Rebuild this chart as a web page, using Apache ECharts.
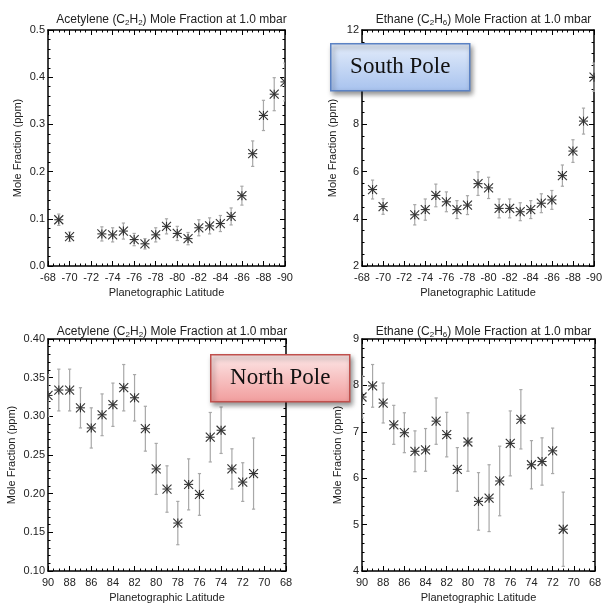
<!DOCTYPE html>
<html>
<head>
<meta charset="utf-8">
<script src="https://cdn.jsdelivr.net/npm/echarts@6/dist/echarts.min.js"></script>
<style>
  html, body { margin: 0; padding: 0; background: #fff; }
  #chart { width: 605px; height: 604px; }
</style>
</head>
<body>
<div id="chart"></div>
<script>
// latitudes
const southLat = [-69, -70, -73, -74, -75, -76, -77, -78, -79, -80, -81, -82, -83, -84, -85, -86, -87, -88, -89, -90];
const northLat = [90, 89, 88, 87, 86, 85, 84, 83, 82, 81, 80, 79, 78, 77, 76, 75, 74, 73, 72, 71];

// south pole, acetylene (ppm) and 1-sigma errors
const southC2H2 = [0.098, 0.062, 0.068, 0.066, 0.074, 0.056, 0.047, 0.066, 0.084, 0.069, 0.058, 0.081, 0.085, 0.090, 0.105, 0.149, 0.238, 0.319, 0.364, 0.390];
const southC2H2Err = [0.012, 0.010, 0.015, 0.015, 0.017, 0.013, 0.011, 0.015, 0.016, 0.015, 0.013, 0.017, 0.017, 0.017, 0.018, 0.020, 0.027, 0.032, 0.035, 0.040];

// south pole, ethane
const southC2H6 = [5.24, 4.52, 4.17, 4.39, 4.99, 4.72, 4.39, 4.58, 5.49, 5.31, 4.44, 4.44, 4.30, 4.39, 4.66, 4.80, 5.83, 6.87, 8.14, 10.0];
const southC2H6Err = [0.40, 0.33, 0.43, 0.45, 0.48, 0.42, 0.38, 0.40, 0.50, 0.45, 0.40, 0.40, 0.38, 0.38, 0.40, 0.40, 0.45, 0.48, 0.55, 0.60];

// north pole, acetylene
const northC2H2 = [0.327, 0.334, 0.334, 0.311, 0.285, 0.302, 0.315, 0.337, 0.324, 0.284, 0.232, 0.206, 0.162, 0.212, 0.199, 0.273, 0.282, 0.232, 0.215, 0.226];
const northC2H2Err = [0.027, 0.027, 0.027, 0.026, 0.026, 0.027, 0.028, 0.030, 0.030, 0.029, 0.033, 0.030, 0.028, 0.033, 0.027, 0.032, 0.030, 0.026, 0.025, 0.046];

// north pole, ethane
const northC2H6 = [7.75, 7.99, 7.62, 7.15, 6.98, 6.58, 6.61, 7.23, 6.94, 6.19, 6.78, 5.50, 5.57, 5.94, 6.75, 7.27, 6.29, 6.36, 6.59, 4.90];
const northC2H6Err = [0.45, 0.46, 0.43, 0.42, 0.43, 0.44, 0.46, 0.50, 0.48, 0.47, 0.63, 0.62, 0.72, 0.75, 0.70, 0.64, 0.52, 0.51, 0.49, 0.80];

const acetyleneTitle = 'Acetylene (C{s|2}H{s|2}) Mole Fraction at 1.0 mbar';
const ethaneTitle = 'Ethane (C{s|2}H{s|6}) Mole Fraction at 1.0 mbar';

const FONT = 'Liberation Sans, Arial, sans-serif';
const INK = '#222';

// panel layout: grid box + y axis range
const panels = [
  { box: [48, 30, 237, 236], title: acetyleneTitle, titleTop: 8, lat: southLat, val: southC2H2, err: southC2H2Err,
    x: [-90, -68], y: [0, 0.5], yStep: 0.1, ySplit: 5, yFmt: v => v.toFixed(1), yGap: 25 },
  { box: [362, 30, 233, 236], title: ethaneTitle, titleTop: 8, lat: southLat, val: southC2H6, err: southC2H6Err,
    x: [-90, -68], y: [2, 12], yStep: 2, ySplit: 4, yFmt: v => String(v), yGap: 24 },
  { box: [48, 339, 238, 238], title: acetyleneTitle, titleTop: 320, lat: northLat, val: northC2H2, err: northC2H2Err,
    x: [68, 90], y: [0.1, 0.4], yStep: 0.05, ySplit: 5, yFmt: v => v.toFixed(2), yGap: 31 },
  { box: [362, 339, 233, 238], title: ethaneTitle, titleTop: 320, lat: northLat, val: northC2H6, err: northC2H6Err,
    x: [68, 90], y: [4, 9], yStep: 1, ySplit: 5, yFmt: v => String(v), yGap: 19 }
];

// error bar + asterisk marker
function renderItem(params, api) {
  const x = api.value(0), y = api.value(1), e = api.value(2);
  const c = api.coord([x, y]);
  const hi = api.coord([x, y + e]);
  const lo = api.coord([x, y - e]);
  const r = 4.5, cap = 1.6;
  const bar = { stroke: '#a8a8a8', lineWidth: 1.2 };
  const mk = { stroke: '#333', lineWidth: 1.1 };
  return {
    type: 'group',
    children: [
      { type: 'line', shape: { x1: c[0], y1: hi[1], x2: c[0], y2: lo[1] }, style: bar },
      { type: 'line', shape: { x1: c[0] - cap, y1: hi[1], x2: c[0] + cap, y2: hi[1] }, style: bar },
      { type: 'line', shape: { x1: c[0] - cap, y1: lo[1], x2: c[0] + cap, y2: lo[1] }, style: bar },
      { type: 'line', shape: { x1: c[0] - r, y1: c[1] - r, x2: c[0] + r, y2: c[1] + r }, style: mk },
      { type: 'line', shape: { x1: c[0] - r, y1: c[1] + r, x2: c[0] + r, y2: c[1] - r }, style: mk },
      { type: 'line', shape: { x1: c[0] - r, y1: c[1], x2: c[0] + r, y2: c[1] }, style: mk },
      { type: 'line', shape: { x1: c[0], y1: c[1] - r, x2: c[0], y2: c[1] + r }, style: mk }
    ]
  };
}

const grid = [], xAxis = [], yAxis = [], title = [], series = [];
const tickLine = () => ({ show: true, inside: true, length: 5, lineStyle: { color: '#000', width: 1 } });
const minorLine = (n) => ({ show: true, splitNumber: n, length: 2.5, lineStyle: { color: '#000', width: 1 } });

panels.forEach((p, i) => {
  const [l, t, w, h] = p.box;
  grid.push({ left: l, top: t, width: w, height: h, containLabel: false });
  title.push({
    text: p.title, left: l + w / 2, top: p.titleTop, textAlign: 'center',
    textStyle: {
      fontFamily: FONT, fontSize: 12, fontWeight: 'normal', color: INK,
      rich: { s: { fontFamily: FONT, fontSize: 8, verticalAlign: 'bottom', padding: [6, 0, 0, 0], color: INK } }
    }
  });
  // bottom axis carries labels, top one is a mirror with ticks only
  ['bottom', 'top'].forEach(pos => {
    xAxis.push({
      type: 'value', gridIndex: i, min: p.x[0], max: p.x[1], interval: 2, inverse: true,
      position: pos,
      splitLine: { show: false },
      axisLine: { show: true, onZero: false, lineStyle: { color: '#000', width: 1.5 } },
      axisTick: tickLine(),
      minorTick: minorLine(4),
      name: pos === 'bottom' ? 'Planetographic Latitude' : '',
      nameLocation: 'middle', nameGap: 21,
      nameTextStyle: { fontFamily: FONT, fontSize: 11, color: INK },
      axisLabel: { show: pos === 'bottom', fontFamily: FONT, fontSize: 11, color: INK, margin: 6 }
    });
  });
  ['left', 'right'].forEach(pos => {
    yAxis.push({
      type: 'value', gridIndex: i, min: p.y[0], max: p.y[1], interval: p.yStep,
      position: pos,
      splitLine: { show: false },
      axisLine: { show: true, onZero: false, lineStyle: { color: '#000', width: 1.5 } },
      axisTick: tickLine(),
      minorTick: minorLine(p.ySplit),
      name: pos === 'left' ? 'Mole Fraction (ppm)' : '',
      nameLocation: 'middle', nameGap: p.yGap,
      nameTextStyle: { fontFamily: FONT, fontSize: 11, color: INK },
      axisLabel: { show: pos === 'left', fontFamily: FONT, fontSize: 11, color: INK, margin: 3, formatter: p.yFmt }
    });
  });
  series.push({
    type: 'custom', xAxisIndex: 2 * i, yAxisIndex: 2 * i, clip: true,
    renderItem: renderItem,
    data: p.lat.map((la, k) => [la, p.val[k], p.err[k]]),
    z: 5
  });
});

function poleLabel(text, x, y, w, h, top, bottom, border) {
  return {
    type: 'group', left: x, top: y, z: 100, zlevel: 1,
    children: [
      {
        type: 'rect', shape: { x: 0, y: 0, width: w, height: h }, z: 100, zlevel: 1,
        style: {
          fill: { type: 'linear', x: 0, y: 0, x2: 0, y2: 1, colorStops: [{ offset: 0, color: top }, { offset: 1, color: bottom }] },
          stroke: border, lineWidth: 1.5,
          shadowBlur: 5, shadowOffsetX: 2, shadowOffsetY: 3, shadowColor: 'rgba(0,0,0,0.45)'
        }
      },
      {
        type: 'text', x: w / 2, y: h / 2, z: 101, zlevel: 1,
        style: { text: text, fill: '#111', font: '23px "Liberation Serif", "DejaVu Serif", serif', align: 'center', verticalAlign: 'middle' }
      }
    ]
  };
}

const chart = echarts.init(document.getElementById('chart'), null, { renderer: 'canvas' });
chart.setOption({
  backgroundColor: '#fff',
  animation: false,
  title: title,
  grid: grid,
  xAxis: xAxis,
  yAxis: yAxis,
  series: series,
  graphic: {
    zlevel: 1,
    z: 100,
    elements: [
      poleLabel('South Pole', 330, 43, 139, 47, '#e4edfb', '#a7c2ee', '#5b82c4'),
      poleLabel('North Pole', 210, 354, 139, 47, '#fde8e8', '#f19c9c', '#c0504d')
    ]
  }
});
</script>
</body>
</html>
